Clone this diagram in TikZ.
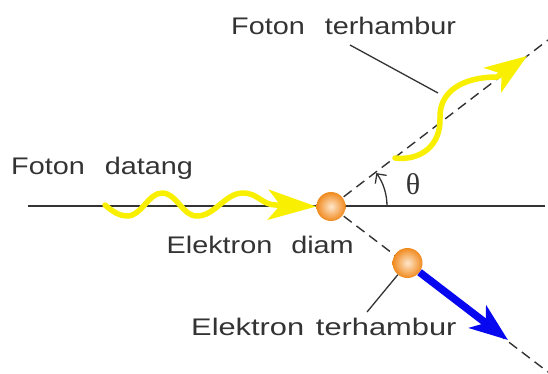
\documentclass[tikz,border=0pt]{standalone}
\usepackage{fontspec}
\usetikzlibrary{arrows.meta}
\newfontfamily\lblfont[FakeStretch=1.2]{Liberation Sans}
\newfontfamily\thfont{Liberation Serif}
\definecolor{inkgray}{HTML}{333333}
\definecolor{photon}{HTML}{F8F000}
\definecolor{ballout}{HTML}{F08A1E}
\definecolor{ballin}{HTML}{FFE6CC}
\definecolor{recoil}{HTML}{0808F0}
\tikzset{
  axisline/.style={draw=inkgray, line width=1.5pt},
  pathline/.style={draw=inkgray, line width=1.4pt, dash pattern=on 10pt off 6pt},
  leader/.style={draw=inkgray, line width=1.3pt},
  wave/.style={draw=photon, line width=5.5pt, line cap=round, line join=round,
    -{Stealth[length=48pt, width=30pt, inset=12pt]}},
  electron/.style={circle, minimum size=29pt, inner sep=0pt,
    shade, shading=radial, inner color=ballin, outer color=ballout},
  label/.style={font=\lblfont\fontsize{24pt}{28pt}\selectfont, text=inkgray,
    anchor=base west, inner sep=0pt},
}
\begin{document}
\begin{tikzpicture}[x=1pt, y=-1pt]
  \useasboundingbox[fill=white] (0,0) rectangle (548,373);

  % reference points
  \coordinate (axL) at (28,206);
  \coordinate (axR) at (545,206);
  \coordinate (upEnd) at (548,40);
  \coordinate (downEnd) at (548,372);
  \coordinate (origin) at (331,206.5);
  \coordinate (recoilTip) at (508,340);
  \coordinate (lead1a) at (350,45);
  \coordinate (lead1b) at (438,93);
  \coordinate (lead2b) at (367,312);

  % incident axis and the two scattering directions
  \draw[axisline] (axL) -- (axR);
  \draw[pathline] (origin) -- (upEnd);
  \draw[pathline] (origin) -- (downEnd);

  % scattering angle
  \draw[draw=inkgray, line width=1.3pt, -{Straight Barb[length=7pt, width=14pt]}]
    (387,206) arc[start angle=0, end angle=-36, radius=56];
  \node[font=\thfont\fontsize{30pt}{32pt}\selectfont, text=inkgray, inner sep=0pt]
    (theta) at (413,184) {θ};

  % electrons
  \node[electron] (e1) at (origin) {};
  \node[electron, minimum size=30pt] (e2) at (407.5,263) {};

  % incoming photon
  \draw[wave] (105,205) .. controls (113,212) and (120,216) .. (127,216)
    .. controls (142,216) and (148,193) .. (162,193)
    .. controls (177,193) and (182,216) .. (197,216)
    .. controls (215,216) and (225,193) .. (243,193)
    .. controls (258,193) and (262,205) .. (276,205) -- (e1.west);

  % scattered photon
  \draw[wave, -{Stealth[length=42pt, width=30pt, inset=11pt]}]
    (395,158) .. controls (420,161) and (441,146) .. (440,118)
    .. controls (439,92) and (462,77) .. (497,77) -- (527,56);

  % recoiling electron
  \draw[draw=recoil, line width=7.5pt,
    -{Stealth[length=38pt, width=28pt, inset=10pt]}] (e2) -- (recoilTip);

  % labels and leader lines
  \node[label] (lblIn) at (11,174.3) {Foton\hspace{20pt}datang};
  \node[label] (lblOut) at (231,34) {Foton\hspace{20pt}terhambur};
  \node[label] (lblRest) at (166.5,253.3) {Elektron\hspace{19pt}diam};
  \node[label] (lblRecoil) at (191,335.7)
    {\scalebox{1.07}[1]{Elektron\hspace{11pt}terhambur}};
  \draw[leader] (lead1a) -- (lead1b);
  \draw[leader] (e2) -- (lead2b);
\end{tikzpicture}
\end{document}
